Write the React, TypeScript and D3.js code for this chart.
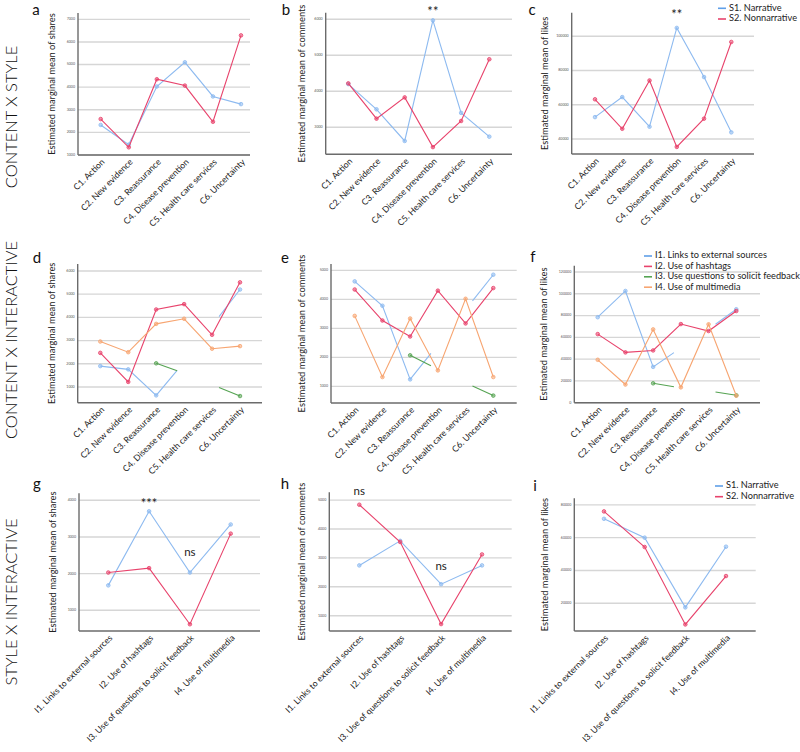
import React from 'react';
import * as d3 from 'd3';

// ---------- categories ----------
const CONTENT_CATS = [
  'C1. Action',
  'C2. New evidence',
  'C3. Reassurance',
  'C4. Disease prevention',
  'C5. Health care services',
  'C6. Uncertainty',
];
const INTERACTIVE_CATS = [
  'I1. Links to external sources',
  'I2. Use of hashtags',
  'I3. Use of questions to solicit feedback',
  'I4. Use of multimedia',
];
const STYLE_LEGEND = ['S1. Narrative', 'S2. Nonnarrative'];
const INTER_LEGEND = [
  'I1. Links to external sources',
  'I2. Use of hashtags',
  'I3. Use questions to solicit feedback',
  'I4. Use of multimedia',
];
const ROW_LABELS = ['CONTENT X STYLE', 'CONTENT X INTERACTIVE', 'STYLE X INTERACTIVE'];

// ---------- tick values ----------
const TICKS_A = [1000, 2000, 3000, 4000, 5000, 6000, 7000];
const TICKS_B = [3000, 4000, 5000, 6000];
const TICKS_C = [40000, 60000, 80000, 100000];
const TICKS_D = [1000, 2000, 3000, 4000, 5000, 6000];
const TICKS_E = [1000, 2000, 3000, 4000, 5000];
const TICKS_F = [0, 20000, 40000, 60000, 80000, 100000, 120000];
const TICKS_G = [1000, 2000, 3000, 4000];
const TICKS_H = [1000, 2000, 3000, 4000, 5000];
const TICKS_I = [20000, 40000, 60000, 80000];

// ---------- values (a-c: content x style) ----------
const A_S1 = [2330, 1460, 4030, 5100, 3590, 3250];
const A_S2 = [2590, 1340, 4350, 4070, 2470, 6290];
const B_S1 = [4200, 3500, 2620, 5970, 3400, 2740];
const B_S2 = [4220, 3240, 3830, 2450, 3175, 4890];
const C_S1 = [52800, 64500, 47200, 104900, 76200, 43900];
const C_S2 = [63200, 46000, 74200, 35400, 51900, 96700];

// ---------- values (d-f: content x interactive) ----------
// null = not estimable; GHOST = partial line ends [category position, value]
const D_I1 = [1900, 1760, 640, null, null, 5200];
const D_I1_GHOST: [number, number][] = [[2.75, 1720], [4.25, 4030]];
const D_I2 = [2470, 1220, 4340, 4570, 3250, 5510];
const D_I3 = [null, null, 2020, null, null, 610];
const D_I3_GHOST: [number, number][] = [[2.75, 1700], [4.25, 980]];
const D_I4 = [2960, 2500, 3720, 3940, 2650, 2760];

const E_I1 = [4620, 3780, 1240, null, null, 4850];
const E_I1_GHOST: [number, number][] = [[2.75, 2140], [4.25, 3950]];
const E_I2 = [4340, 3270, 2720, 4300, 3170, 4390];
const E_I3 = [null, null, 2070, null, null, 680];
const E_I3_GHOST: [number, number][] = [[2.75, 1710], [4.25, 1010]];
const E_I4 = [3430, 1320, 3340, 1550, 4020, 1320];

const F_I1 = [78500, 102600, 32900, null, null, 85800];
const F_I1_GHOST: [number, number][] = [[2.75, 46000], [4.25, 72000]];
const F_I2 = [63000, 46200, 48000, 72200, 65800, 84200];
const F_I3 = [null, null, 17800, null, null, 6800];
const F_I3_GHOST: [number, number][] = [[2.75, 14700], [4.25, 9800]];
const F_I4 = [39400, 16700, 67300, 14100, 72000, 6400];

// ---------- values (g-i: style x interactive) ----------
const G_S1 = [1680, 3700, 2030, 3340];
const G_S2 = [2030, 2150, 620, 3090];
const H_S1 = [2740, 3590, 2090, 2740];
const H_S2 = [4840, 3550, 710, 3120];
const I_S1 = [71500, 60000, 17500, 54500];
const I_S2 = [76000, 54300, 7100, 36600];

// ---------- styling ----------
const FONT = 'Lato, "Open Sans", sans-serif';
const BLUE = '#8dbaf0';
const RED = '#e8436c';
const GREEN = '#55a352';
const ORANGE = '#f7a571';
const LEG_BLUE = '#5f9fe8';
const GRID = '#d6d6d6';
const AXIS = '#6b6b6b';

type Pt = { i: number; v: number; real: boolean };
type Series = { values: (number | null)[]; ghosts?: [number, number][]; color: string };
type Ann = { text: string; at: number; y: number; size: number };
type PanelCfg = {
  letter: string; lx: number; ly: number;
  cats: string[];
  axisX: number; top: number; bottom: number; right: number;
  x0: number; x1: number;
  yMin: number; yMax: number;
  ticks: number[];
  title: string; titleX: number;
  series: Series[];
  ann?: Ann[];
};

function segments(s: Series): Pt[][] {
  const pts: Pt[] = [];
  s.values.forEach((v, i) => { if (v != null) pts.push({ i, v, real: true }); });
  (s.ghosts || []).forEach(([i, v]) => pts.push({ i, v, real: false }));
  pts.sort((a, b) => a.i - b.i);
  const segs: Pt[][] = [];
  let cur: Pt[] = [];
  pts.forEach((p, k) => {
    if (k > 0 && !pts[k - 1].real && !p.real) { segs.push(cur); cur = []; }
    cur.push(p);
  });
  if (cur.length) segs.push(cur);
  return segs;
}

function Panel({ c }: { c: PanelCfg }) {
  const x = d3.scaleLinear().domain([0, c.cats.length - 1]).range([c.x0, c.x1]);
  const y = d3.scaleLinear().domain([c.yMin, c.yMax]).range([c.bottom, c.top]);
  const line = d3.line<Pt>().x((p) => x(p.i)).y((p) => y(p.v));
  return (
    <g>
      {c.ticks.map((t) => (
        <g key={t}>
          <line x1={c.axisX} x2={c.right} y1={y(t)} y2={y(t)} stroke={GRID} strokeWidth={1.4} />
          <text x={c.axisX - 3} y={y(t)} fontSize={3.6} fill="#555" textAnchor="end" dominantBaseline="middle" fontFamily={FONT}>{t}</text>
        </g>
      ))}
      <line x1={c.axisX} x2={c.axisX} y1={c.top} y2={c.bottom} stroke={AXIS} strokeWidth={1.4} />
      <line x1={c.axisX} x2={c.right} y1={c.bottom} y2={c.bottom} stroke={AXIS} strokeWidth={1.4} />
      {c.series.map((s, si) => (
        <g key={si}>
          {segments(s).map((seg, k) => (
            <path key={k} d={line(seg) || ''} fill="none" stroke={s.color} strokeWidth={1.1} />
          ))}
          {s.values.map((v, i) => v == null ? null : (
            <circle key={i} cx={x(i)} cy={y(v)} r={1.8} fill={s.color} fillOpacity={0.55} stroke={s.color} strokeWidth={0.8} />
          ))}
        </g>
      ))}
      {c.cats.map((cat, i) => (
        <text key={cat} transform={`translate(${x(i) + 3},${c.bottom + 6}) rotate(-45)`} fontSize={8.7} fill="#222" textAnchor="end" dominantBaseline="middle" fontFamily={FONT}>{cat}</text>
      ))}
      <text transform={`translate(${c.titleX},${(c.top + c.bottom) / 2}) rotate(-90)`} fontSize={9.3} fill="#222" textAnchor="middle" dominantBaseline="middle" fontFamily={FONT}>{c.title}</text>
      <text x={c.lx} y={c.ly} fontSize={15} fill="#111" textAnchor="middle" fontFamily={FONT}>{c.letter}</text>
      {(c.ann || []).map((a, k) => (
        <text key={k} x={x(a.at)} y={a.y} fontSize={a.size} fill="#222" textAnchor="middle" dominantBaseline="middle" fontFamily={FONT}>{a.text}</text>
      ))}
    </g>
  );
}

function Legend({ x, y, dy, labels, colors, len }: { x: number; y: number; dy: number; labels: string[]; colors: string[]; len: number }) {
  return (
    <g>
      {labels.map((l, k) => (
        <g key={l}>
          <line x1={x} x2={x + len} y1={y + k * dy} y2={y + k * dy} stroke={colors[k]} strokeWidth={1.6} />
          <text x={x + len + 3} y={y + k * dy} fontSize={9.2} fill="#222" dominantBaseline="middle" fontFamily={FONT}>{l}</text>
        </g>
      ))}
    </g>
  );
}

const styleSeries = (s1: number[], s2: number[]): Series[] => [
  { values: s1, color: BLUE },
  { values: s2, color: RED },
];

const PANELS: PanelCfg[] = [
  {
    letter: 'a', lx: 36, ly: 14.5, cats: CONTENT_CATS, axisX: 78, top: 13, bottom: 155, right: 250,
    x0: 100.7, x1: 241, yMin: 1000, yMax: 7280, ticks: TICKS_A,
    title: 'Estimated marginal mean of shares', titleX: 53, series: styleSeries(A_S1, A_S2),
  },
  {
    letter: 'b', lx: 286, ly: 15, cats: CONTENT_CATS, axisX: 325.7, top: 12.7, bottom: 154.3, right: 512,
    x0: 348.3, x1: 489.3, yMin: 2250, yMax: 6183, ticks: TICKS_B,
    title: 'Estimated marginal mean of comments', titleX: 302.7, series: styleSeries(B_S1, B_S2),
    ann: [{ text: '**', at: 3, y: 13, size: 13 }],
  },
  {
    letter: 'c', lx: 532, ly: 15, cats: CONTENT_CATS, axisX: 571.7, top: 12.7, bottom: 154, right: 754,
    x0: 595, x1: 731.3, yMin: 31250, yMax: 113800, ticks: TICKS_C,
    title: 'Estimated marginal mean of likes', titleX: 546, series: styleSeries(C_S1, C_S2),
    ann: [{ text: '**', at: 3, y: 16, size: 13 }],
  },
  {
    letter: 'd', lx: 37, ly: 263, cats: CONTENT_CATS, axisX: 77.7, top: 264, bottom: 402.7, right: 262,
    x0: 100.3, x1: 240, yMin: 323, yMax: 6300, ticks: TICKS_D,
    title: 'Estimated marginal mean of shares', titleX: 52.7,
    series: [
      { values: D_I1, ghosts: D_I1_GHOST, color: BLUE },
      { values: D_I2, color: RED },
      { values: D_I3, ghosts: D_I3_GHOST, color: GREEN },
      { values: D_I4, color: ORANGE },
    ],
  },
  {
    letter: 'e', lx: 285, ly: 263, cats: CONTENT_CATS, axisX: 331, top: 264, bottom: 403, right: 516.7,
    x0: 354.7, x1: 493.3, yMin: 425, yMax: 5220, ticks: TICKS_E,
    title: 'Estimated marginal mean of comments', titleX: 302.7,
    series: [
      { values: E_I1, ghosts: E_I1_GHOST, color: BLUE },
      { values: E_I2, color: RED },
      { values: E_I3, ghosts: E_I3_GHOST, color: GREEN },
      { values: E_I4, color: ORANGE },
    ],
  },
  {
    letter: 'f', lx: 533, ly: 262, cats: CONTENT_CATS, axisX: 574.3, top: 265.7, bottom: 402.7, right: 760,
    x0: 597.7, x1: 736.3, yMin: 0, yMax: 125800, ticks: TICKS_F,
    title: 'Estimated marginal mean of likes', titleX: 545,
    series: [
      { values: F_I1, ghosts: F_I1_GHOST, color: BLUE },
      { values: F_I2, color: RED },
      { values: F_I3, ghosts: F_I3_GHOST, color: GREEN },
      { values: F_I4, color: ORANGE },
    ],
  },
  {
    letter: 'g', lx: 37, ly: 489, cats: INTERACTIVE_CATS, axisX: 79, top: 493.3, bottom: 631, right: 260,
    x0: 108.3, x1: 230.7, yMin: 436, yMax: 4190, ticks: TICKS_G,
    title: 'Estimated marginal mean of shares', titleX: 53.3, series: styleSeries(G_S1, G_S2),
    ann: [{ text: '***', at: 1, y: 505, size: 13 }, { text: 'ns', at: 2, y: 553, size: 11.5 }],
  },
  {
    letter: 'h', lx: 285, ly: 489, cats: INTERACTIVE_CATS, axisX: 329.3, top: 492.3, bottom: 631, right: 511.7,
    x0: 359.3, x1: 482, yMin: 470, yMax: 5270, ticks: TICKS_H,
    title: 'Estimated marginal mean of comments', titleX: 302.7, series: styleSeries(H_S1, H_S2),
    ann: [{ text: 'ns', at: 0, y: 492, size: 11.5 }, { text: 'ns', at: 2, y: 567, size: 11.5 }],
  },
  {
    letter: 'i', lx: 535, ly: 491, cats: INTERACTIVE_CATS, axisX: 574.3, top: 498.3, bottom: 631, right: 755.7,
    x0: 604, x1: 726, yMin: 3100, yMax: 84000, ticks: TICKS_I,
    title: 'Estimated marginal mean of likes', titleX: 546, series: styleSeries(I_S1, I_S2),
  },
];

const ROW_Y = [117, 340, 602];

export default function App() {
  return (
    <svg width={800} height={752} style={{ position: 'absolute', left: 0, top: 0, background: '#fff' }}>
      <rect width={800} height={752} fill="#fff" />
      {ROW_LABELS.map((r, k) => (
        <text key={r} transform={`translate(13,${ROW_Y[k]}) rotate(-90)`} fontSize={16.5} fill="#111" textAnchor="middle" dominantBaseline="middle" fontFamily={FONT} fontWeight={300}>{r}</text>
      ))}
      {PANELS.map((p) => <Panel key={p.letter} c={p} />)}
      <Legend x={718} y={8.3} dy={10.7} labels={STYLE_LEGEND} colors={[LEG_BLUE, RED]} len={8} />
      <Legend x={644} y={256} dy={10.4} labels={INTER_LEGEND} colors={[LEG_BLUE, RED, GREEN, ORANGE]} len={8} />
      <Legend x={715} y={486} dy={10.7} labels={STYLE_LEGEND} colors={[LEG_BLUE, RED]} len={8} />
    </svg>
  );
}
